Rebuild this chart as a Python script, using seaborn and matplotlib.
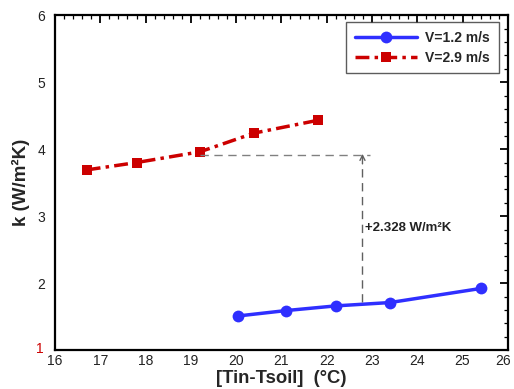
import matplotlib
matplotlib.use("Agg")
import matplotlib.pyplot as plt
import matplotlib.transforms as mtransforms
import seaborn as sns
import pandas as pd
from matplotlib.ticker import MultipleLocator

sns.set_theme(style="white")
plt.rcParams['font.family'] = ['Liberation Sans', 'DejaVu Sans']

x_low = [20.05, 21.1, 22.2, 23.4, 25.4]
k_low = [1.51, 1.59, 1.66, 1.71, 1.92]
x_high = [16.7, 17.8, 19.2, 20.4, 21.8]
k_high = [3.69, 3.80, 3.96, 4.24, 4.43]
labels = ["V=1.2 m/s", "V=2.9 m/s"]
annot_text = "+2.328 W/m²K"

df_low = pd.DataFrame({"x": x_low, "k": k_low})
df_high = pd.DataFrame({"x": x_high, "k": k_high})

fig = plt.figure(figsize=(5.14, 3.89), dpi=100)
ax = fig.add_axes([0.107, 0.100, 0.881, 0.861])

sns.lineplot(data=df_low, x="x", y="k", ax=ax, color="#2f2fff", lw=2.5,
             marker="o", markersize=8.5, markeredgewidth=0, label=labels[0], sort=False)
sns.lineplot(data=df_high, x="x", y="k", ax=ax, color="#cc0000", lw=2.5,
             marker="s", markersize=7, markeredgewidth=0, label=labels[1], sort=False)
ax.lines[-1].set_linestyle((0, (4, 1.5, 1, 1.5)))

# annotation
ax.plot([19.2, 22.95], [3.92, 3.92], color="#808080", lw=1, ls=(0, (6, 4)))
ax.plot([22.79, 22.79], [1.72, 3.80], color="#606060", lw=1, ls=(0, (6, 4)))
ax.annotate("", xy=(22.79, 3.93), xytext=(22.79, 3.78),
            arrowprops=dict(arrowstyle="->", color="#606060", lw=1,
                            shrinkA=0, shrinkB=0, mutation_scale=9))
ax.text(22.85, 2.82, annot_text, fontsize=9.5, fontweight="bold", color="#222222",
        ha="left", va="center")

ax.set_xlim(16, 26)
ax.set_ylim(1, 6)
ax.xaxis.set_major_locator(MultipleLocator(1))
ax.xaxis.set_minor_locator(MultipleLocator(0.2))
ax.yaxis.set_major_locator(MultipleLocator(1))
ax.yaxis.set_minor_locator(MultipleLocator(0.2))
ax.tick_params(which="both", direction="in", top=True, right=True, colors="black",
               labelcolor="#222222")
ax.tick_params(which="major", length=6, width=1.3, labelsize=10)
ax.tick_params(which="minor", length=3, width=0.9)
ax.tick_params(axis="x", labeltop=False, pad=3)
ax.tick_params(axis="y", labelright=False, pad=7)
for s in ax.spines.values():
    s.set_color("black")
    s.set_linewidth(1.6)

ax.set_xlabel("[Tin-Tsoil]  (°C)", fontsize=13.3, fontweight="bold", labelpad=1)
ax.set_ylabel("k (W/m²K)", fontsize=13.5, fontweight="bold", labelpad=4)

fig.canvas.draw()
for t in ax.get_yticklabels():
    if t.get_text() == "1":
        t.set_color("#cc0000")
        t.set_transform(t.get_transform() + mtransforms.ScaledTranslation(-2/100, 3/100, fig.dpi_scale_trans))
for t in ax.get_xticklabels():
    if t.get_text() == "26":
        t.set_transform(t.get_transform() + mtransforms.ScaledTranslation(-5/100, 0, fig.dpi_scale_trans))

leg = ax.legend(loc="upper right", bbox_to_anchor=(0.980, 0.979), frameon=True,
                fancybox=False, edgecolor="#333333",
                prop={"weight": "bold", "size": 10}, handlelength=4.5,
                borderpad=0.62, labelspacing=0.42, handletextpad=0.6, borderaxespad=0)
leg.get_frame().set_linewidth(1.0)

fig.savefig("out.png", dpi=100)
